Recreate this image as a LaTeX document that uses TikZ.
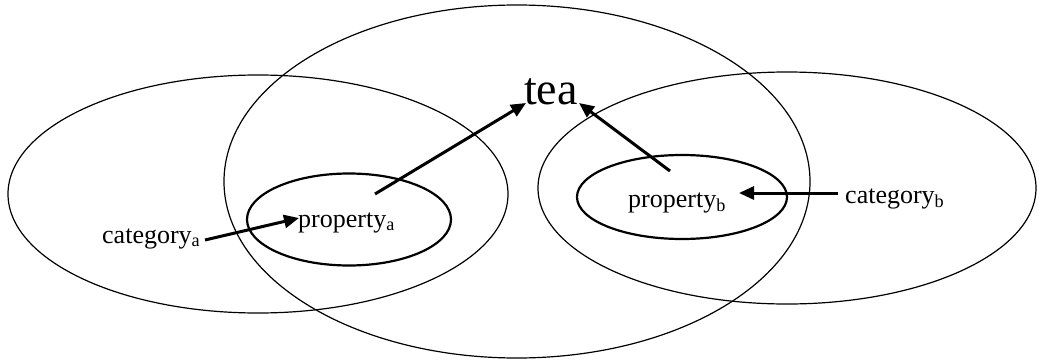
\documentclass[tikz,border=0pt]{standalone}
\usepackage{fontspec}
\setmainfont{Liberation Serif}
\usetikzlibrary{arrows.meta}
\begin{document}
\begin{tikzpicture}[x=1pt,y=-1pt,
  thinell/.style={draw=black,line width=1.2pt},
  thickell/.style={draw=black,line width=2.2pt},
  lbl/.style={anchor=base west,inner sep=0pt,font=\fontsize{26}{30}\selectfont},
  arr/.style={line width=3pt,-{Triangle[length=15pt,width=13pt]}}]
\useasboundingbox (0,0) rectangle (1044,364);
% large ellipses
\draw[thinell] (258,194) ellipse [x radius=250pt, y radius=119pt];
\draw[thinell] (517,181.5) ellipse [x radius=293pt, y radius=176.5pt];
\draw[thinell] (787,188) ellipse [x radius=249pt, y radius=116pt];
% small ellipses
\draw[thickell] (349,219.5) ellipse [x radius=102pt, y radius=46pt];
\draw[thickell] (682,197) ellipse [x radius=105pt, y radius=42pt];
% labels
\node[anchor=base west,inner sep=0pt,font=\fontsize{46}{50}\selectfont] (tea) at (524,104) {tea};
\node[lbl] (pa) at (298,227) {property\textsubscript{a}};
\node[lbl] (pb) at (628,207) {property\textsubscript{b}};
\node[lbl] (ca) at (102,243) {category\textsubscript{a}};
\node[lbl] (cb) at (845,203) {category\textsubscript{b}};
% arrow end points
\coordinate (caout) at (205,240);
\coordinate (pain) at (299,218);
\coordinate (paout) at (375,194);
\coordinate (teaa) at (526,103);
\coordinate (pbout) at (670,171);
\coordinate (teab) at (579,103);
\coordinate (cbout) at (838,193);
\coordinate (pbin) at (739,193);
% arrows
\draw[arr] (caout) -- (pain);
\draw[arr] (paout) -- (teaa);
\draw[arr] (pbout) -- (teab);
\draw[arr] (cbout) -- (pbin);
\end{tikzpicture}
\end{document}
